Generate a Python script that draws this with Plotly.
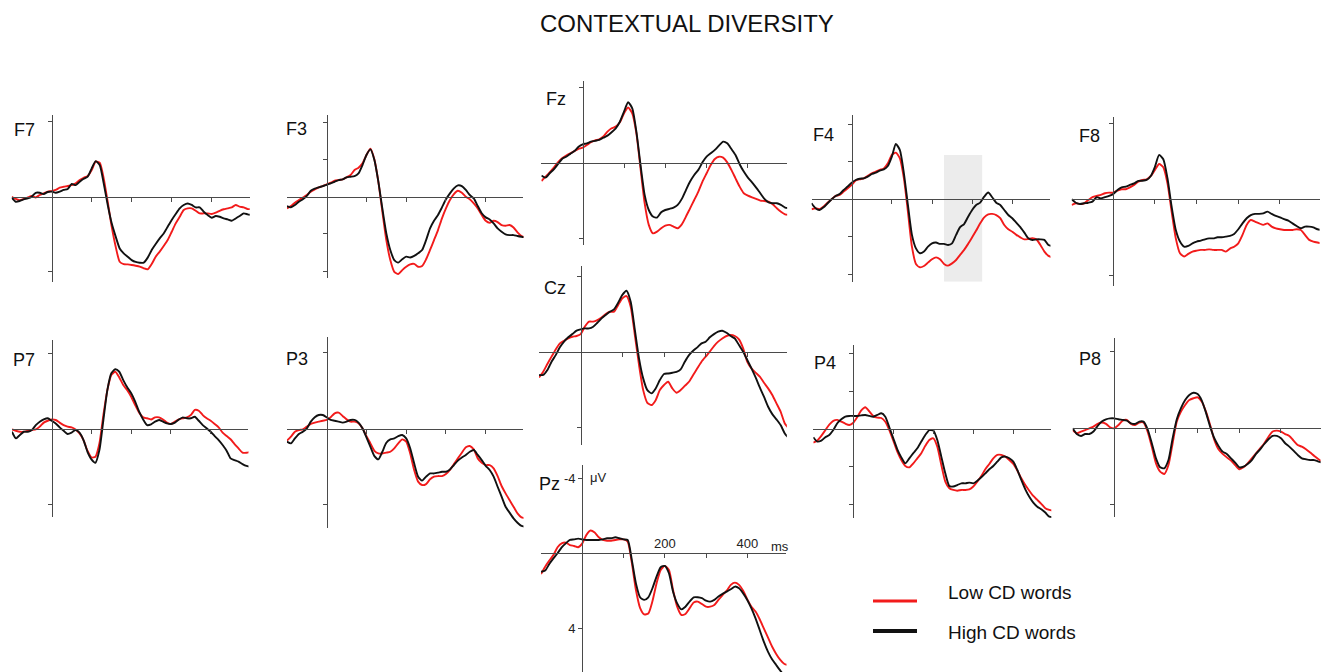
import plotly.graph_objects as go

# ---------------- text ----------------
TITLE = "CONTEXTUAL DIVERSITY"
LEGEND_LOW = "Low CD words"
LEGEND_HIGH = "High CD words"
UNIT_Y = "\u03bcV"
UNIT_X = "ms"
PANEL_NAMES = ["F7", "F3", "Fz", "F4", "F8", "P7", "P3", "Cz", "P4", "P8", "Pz"]

# ---------------- data (uV, negative up) ----------------
TIME_MS = list(range(-100, 501, 10))
X_TICKS = [100, 200, 300, 400]
PZ_X_TICK_TEXT = ["", "200", "", "400"]
PZ_Y_TICKS = [-4, 4]
PZ_Y_TICK_TEXT = ["-4", "4"]
WINDOW_MS = [230, 325]          # shaded analysis window on F4

F7_LOW = [0, 0.12, 0.18, 0.12, 0.04, -0.04, 0.04, -0.09, -0.18, -0.27, -0.3,
          -0.36, -0.48, -0.53, -0.57, -0.62, -0.71, -0.89, -1.01, -1.1, -1.42,
          -1.87, -1.81, -0.98, 0.27, 1.6, 2.67, 3.47, 3.6, 3.61, 3.64,
          3.68, 3.73, 3.82, 3.87, 3.59, 3.2, 2.93, 2.63, 2.31, 1.87,
          1.42, 1.07, 0.71, 0.62, 0.62, 0.75, 0.89, 0.89, 0.89, 0.92,
          0.85, 0.75, 0.67, 0.62, 0.57, 0.44, 0.53, 0.57, 0.66, 0.66]
F7_HIGH = [0.05, 0.27, 0.23, 0.14, 0.09, 0.0, -0.21, -0.21, -0.14, -0.25, -0.27,
           -0.21, -0.27, -0.36, -0.41, -0.68, -0.62, -0.8, -0.96, -1.07, -1.51,
           -1.9, -1.69, -0.71, 0.44, 1.42, 2.13, 2.76, 3.02, 3.2, 3.38,
           3.48, 3.52, 3.52, 3.25, 2.84, 2.52, 2.22, 1.96, 1.6, 1.24,
           0.92, 0.62, 0.44, 0.36, 0.44, 0.57, 0.57, 0.8, 0.98, 1.12,
           1.03, 1.07, 1.16, 1.21, 1.28, 1.16, 1.03, 0.89, 0.94, 0.98]

F3_LOW = [0.63, 0.5, 0.32, 0.18, 0.05, -0.09, -0.27, -0.39, -0.5, -0.57, -0.66,
          -0.75, -0.86, -0.89, -0.93, -1.04, -1.16, -1.43, -1.56, -1.79, -2.24,
          -2.58, -2.0, -0.8, 0.8, 2.33, 3.4, 4.03, 4.15, 3.94, 3.76,
          3.63, 3.61, 3.76, 3.72, 3.36, 2.86, 2.33, 1.79, 1.16, 0.63,
          0.18, -0.14, -0.32, -0.21, 0, 0.14, 0.36, 0.63, 0.98, 1.29,
          1.4, 1.29, 1.36, 1.52, 1.56, 1.52, 1.65, 1.91, 2.11, 2.18]
F3_HIGH = [0.5, 0.57, 0.45, 0.27, 0.14, -0.04, -0.32, -0.43, -0.5, -0.57, -0.64,
           -0.72, -0.8, -0.89, -0.93, -1.04, -1.07, -1.1, -1.25, -1.7, -2.24,
           -2.54, -1.97, -0.8, 0.63, 1.97, 2.86, 3.4, 3.54, 3.36, 3.22,
           3.26, 3.18, 3.04, 2.86, 2.33, 1.7, 1.29, 0.98, 0.57, 0.14,
           -0.18, -0.45, -0.61, -0.57, -0.36, -0.09, 0.09, 0.5, 0.89, 1.11,
           1.22, 1.43, 1.7, 1.88, 2.02, 2.06, 2.06, 2.11, 2.15, 2.18]

FZ_LOW = [0.94, 0.71, 0.48, 0.23, -0.05, -0.27, -0.41, -0.53, -0.65, -0.76, -0.83,
          -0.97, -1.12, -1.22, -1.27, -1.42, -1.68, -1.86, -1.95, -2.18, -2.65,
          -2.96, -2.65, -1.59, 0.27, 2.12, 3.27, 3.72, 3.63, 3.45, 3.31,
          3.27, 3.36, 3.45, 3.24, 2.83, 2.39, 1.95, 1.5, 0.97, 0.53,
          0.09, -0.23, -0.35, -0.3, -0.05, 0.35, 0.8, 1.24, 1.59, 1.72,
          1.81, 1.89, 1.98, 2.0, 2.04, 2.18, 2.39, 2.57, 2.71, 2.74]
FZ_HIGH = [0.65, 0.76, 0.53, 0.32, 0.05, -0.23, -0.35, -0.5, -0.65, -0.88, -1.01,
           -1.06, -1.15, -1.19, -1.24, -1.36, -1.47, -1.65, -1.86, -2.21, -2.74,
           -3.24, -2.92, -1.68, 0.09, 1.68, 2.48, 2.83, 2.88, 2.6, 2.48,
           2.42, 2.35, 2.21, 1.89, 1.42, 0.97, 0.62, 0.35, -0.05, -0.35,
           -0.53, -0.71, -0.94, -1.15, -1.06, -0.76, -0.44, 0.05, 0.44, 0.76,
           1.01, 1.29, 1.59, 1.89, 2.07, 2.12, 2.12, 2.21, 2.35, 2.39]

F4_LOW = [0.53, 0.48, 0.53, 0.39, 0.18, 0, -0.18, -0.23, -0.41, -0.59, -0.77,
          -1.0, -1.07, -1.12, -1.25, -1.39, -1.48, -1.57, -1.65, -1.92, -2.37,
          -2.49, -2.19, -1.12, 0.66, 2.53, 3.45, 3.63, 3.56, 3.38, 3.2,
          3.1, 3.2, 3.45, 3.54, 3.42, 3.24, 2.97, 2.7, 2.38, 2.03,
          1.67, 1.28, 0.96, 0.8, 0.78, 0.84, 1.01, 1.37, 1.6, 1.73,
          1.9, 2.03, 2.14, 2.12, 2.08, 2.14, 2.44, 2.79, 3.02, 3.1]
F4_HIGH = [0.21, 0.48, 0.57, 0.43, 0.21, 0, -0.18, -0.28, -0.5, -0.68, -0.89,
           -1.03, -1.1, -1.12, -1.21, -1.35, -1.42, -1.53, -1.6, -1.78, -2.28,
           -2.95, -2.63, -1.39, 0.3, 1.9, 2.62, 2.88, 2.79, 2.53, 2.35,
           2.31, 2.38, 2.38, 2.44, 2.35, 1.9, 1.49, 1.32, 0.93, 0.57,
           0.3, 0.18, -0.14, -0.36, -0.11, 0.18, 0.3, 0.57, 0.84, 1.01,
           1.25, 1.49, 1.78, 2.08, 2.17, 2.14, 2.14, 2.17, 2.44, 2.49]

F8_LOW = [0.3, 0.21, 0.25, 0.21, 0.04, -0.11, -0.18, -0.23, -0.32, -0.35, -0.35,
          -0.46, -0.53, -0.53, -0.63, -0.76, -0.93, -1.02, -1.05, -1.23, -1.55,
          -1.86, -1.69, -0.84, 0.65, 2.06, 2.85, 3.02, 2.88, 2.76, 2.71,
          2.67, 2.67, 2.64, 2.67, 2.67, 2.67, 2.76, 2.6, 2.5, 2.32,
          1.88, 1.35, 1.09, 1.18, 1.27, 1.35, 1.27, 1.44, 1.53, 1.58,
          1.62, 1.62, 1.62, 1.58, 1.62, 1.88, 2.14, 2.23, 2.28, 2.32]
F8_HIGH = [0, 0.18, 0.25, 0.21, 0.18, 0.12, -0.11, -0.05, -0.11, -0.18, -0.28,
           -0.49, -0.63, -0.67, -0.76, -0.84, -0.97, -0.98, -1.02, -1.23, -1.72,
           -2.34, -2.11, -1.11, 0.39, 1.62, 2.23, 2.5, 2.46, 2.32, 2.23,
           2.18, 2.11, 2.06, 2.06, 2.0, 2.0, 1.97, 1.93, 1.83, 1.58,
           1.27, 1.0, 0.83, 0.77, 0.77, 0.74, 0.65, 0.77, 0.88, 0.95,
           1.05, 1.12, 1.27, 1.41, 1.53, 1.44, 1.44, 1.48, 1.58, 1.62]

P7_LOW = [0.04, 0.11, 0.16, 0.16, 0.11, 0.07, 0.04, -0.11, -0.32, -0.42, -0.49,
          -0.46, -0.32, -0.19, -0.11, -0.07, 0.04, 0.25, 0.6, 1.16, 1.52,
          1.48, 0.78, -0.72, -2.04, -2.84, -3.01, -2.71, -2.31, -2.04, -1.69,
          -1.25, -0.85, -0.6, -0.55, -0.49, -0.6, -0.6, -0.49, -0.32, -0.25,
          -0.37, -0.49, -0.55, -0.6, -0.72, -0.99, -0.95, -0.72, -0.55, -0.42,
          -0.25, -0.07, 0.21, 0.39, 0.56, 0.81, 1.04, 1.27, 1.27, 1.22]
P7_HIGH = [0.16, 0.51, 0.33, 0.16, 0.16, 0.07, -0.19, -0.37, -0.49, -0.55, -0.42,
           -0.28, -0.07, 0.11, 0.28, 0.21, 0.07, 0.21, 0.6, 1.22, 1.62,
           1.8, 1.13, -0.46, -2.04, -2.93, -3.14, -3.01, -2.57, -2.19, -1.87,
           -1.43, -0.9, -0.49, -0.19, -0.23, -0.37, -0.46, -0.37, -0.28, -0.25,
           -0.32, -0.49, -0.6, -0.55, -0.55, -0.63, -0.42, -0.19, -0.02, 0.16,
           0.39, 0.6, 0.86, 1.16, 1.57, 1.66, 1.74, 1.87, 1.97, 2.01]

P3_LOW = [0.63, 0.42, 0.16, 0.07, 0.04, -0.11, -0.25, -0.32, -0.37, -0.42, -0.46,
          -0.6, -0.81, -0.84, -0.67, -0.49, -0.37, -0.37, -0.28, -0.02, 0.39,
          0.77, 1.16, 1.3, 1.3, 1.26, 1.21, 1.03, 0.77, 0.56, 0.68,
          1.3, 2.17, 2.78, 2.96, 2.91, 2.66, 2.52, 2.49, 2.49, 2.38,
          2.17, 1.86, 1.56, 1.26, 0.98, 0.91, 1.09, 1.56, 1.79, 1.91,
          1.91, 2.08, 2.49, 3.01, 3.4, 3.75, 4.1, 4.45, 4.66, 4.7]
P3_HIGH = [0.68, 0.77, 0.51, 0.28, 0.16, -0.02, -0.37, -0.6, -0.72, -0.72, -0.6,
           -0.46, -0.42, -0.37, -0.32, -0.37, -0.46, -0.46, -0.32, -0.02, 0.46,
           0.95, 1.44, 1.61, 1.21, 0.74, 0.56, 0.51, 0.39, 0.33, 0.51,
           1.03, 1.82, 2.52, 2.73, 2.52, 2.35, 2.35, 2.31, 2.26, 2.26,
           2.14, 1.91, 1.68, 1.51, 1.38, 1.21, 1.12, 1.38, 1.65, 1.95,
           2.17, 2.52, 3.05, 3.57, 4.1, 4.41, 4.71, 4.94, 5.11, 5.15]

CZ_LOW = [1.36, 1.06, 0.65, 0.26, -0.12, -0.44, -0.58, -0.7, -0.79, -0.83, -0.93,
          -1.33, -1.59, -1.59, -1.67, -1.81, -1.99, -2.11, -2.11, -2.47, -2.82,
          -2.94, -2.38, -0.88, 0.7, 2.03, 2.7, 2.82, 2.56, 2.03, 1.76,
          1.59, 1.94, 2.17, 2.03, 1.81, 1.59, 1.23, 0.88, 0.53, 0.26,
          0, -0.3, -0.53, -0.7, -0.83, -0.88, -0.83, -0.65, -0.18, 0.53,
          0.88, 1.11, 1.32, 1.64, 1.94, 2.29, 2.73, 3.17, 3.79, 4.05]
CZ_HIGH = [1.23, 1.23, 0.97, 0.53, 0.18, -0.23, -0.53, -0.76, -0.93, -1.11, -1.18,
           -1.23, -1.23, -1.32, -1.53, -1.76, -1.94, -2.11, -2.24, -2.59, -3.0,
           -3.22, -2.64, -1.15, 0.35, 1.41, 2.03, 2.2, 1.94, 1.5, 1.18,
           1.15, 1.11, 1.06, 0.93, 0.53, 0.18, -0.05, -0.23, -0.44, -0.53,
           -0.76, -0.93, -1.06, -1.11, -1.0, -0.83, -0.7, -0.35, 0, 0.44,
           0.88, 1.36, 1.89, 2.38, 2.91, 3.3, 3.58, 3.88, 4.32, 4.58]

P4_LOW = [0.71, 0.6, 0.35, 0.05, -0.25, -0.45, -0.5, -0.41, -0.3, -0.23, -0.35,
          -0.65, -1.0, -1.17, -0.95, -0.7, -0.62, -0.6, -0.4, 0.04, 0.6,
          1.19, 1.63, 1.95, 2.02, 1.81, 1.54, 1.27, 0.88, 0.57, 0.48,
          0.92, 1.89, 2.78, 3.13, 3.22, 3.26, 3.22, 3.22, 3.19, 3.04,
          2.78, 2.48, 2.12, 1.84, 1.54, 1.36, 1.36, 1.45, 1.63, 1.84,
          2.19, 2.6, 2.96, 3.26, 3.54, 3.75, 3.96, 4.19, 4.28, 4.32]
P4_HIGH = [0.42, 0.65, 0.6, 0.42, 0.3, 0.04, -0.32, -0.53, -0.67, -0.71, -0.71,
           -0.71, -0.74, -0.76, -0.71, -0.67, -0.76, -0.85, -0.67, -0.11, 0.48,
           1.06, 1.49, 1.81, 1.54, 1.27, 1.01, 0.65, 0.3, 0.04, 0.07,
           0.57, 1.45, 2.34, 3.01, 3.04, 2.96, 2.87, 2.87, 2.83, 2.87,
           2.73, 2.55, 2.34, 2.12, 1.95, 1.72, 1.49, 1.45, 1.54, 1.72,
           2.16, 2.69, 3.19, 3.58, 3.89, 4.11, 4.25, 4.42, 4.64, 4.67]

P8_LOW = [0.09, 0.26, 0.17, 0.09, 0, -0.09, -0.23, -0.3, -0.23, -0.05, 0,
          -0.17, -0.4, -0.44, -0.23, -0.17, -0.3, -0.3, 0.17, 0.96, 1.83,
          2.26, 2.39, 1.92, 0.78, -0.35, -0.87, -1.22, -1.48, -1.57, -1.62,
          -1.39, -0.87, -0.17, 0.61, 1.1, 1.34, 1.52, 1.69, 1.92, 2.14,
          2.04, 1.83, 1.57, 1.31, 1.05, 0.78, 0.44, 0.17, 0.12, 0.17,
          0.3, 0.4, 0.64, 0.87, 0.96, 1.1, 1.27, 1.45, 1.62, 1.74]
P8_HIGH = [0, 0.3, 0.4, 0.3, 0.3, 0.17, -0.12, -0.35, -0.47, -0.52, -0.52,
           -0.47, -0.44, -0.4, -0.26, -0.23, -0.35, -0.35, 0.05, 0.78, 1.57,
           2.04, 2.09, 1.66, 0.52, -0.47, -1.05, -1.48, -1.74, -1.86, -1.79,
           -1.45, -0.82, -0.09, 0.52, 0.92, 1.22, 1.34, 1.57, 1.79, 2.04,
           2.0, 1.86, 1.66, 1.34, 1.1, 0.82, 0.57, 0.4, 0.4, 0.52,
           0.78, 0.96, 1.17, 1.39, 1.57, 1.62, 1.66, 1.66, 1.74, 1.79]

PZ_LOW = [1.1, 0.71, 0.39, 0.09, -0.32, -0.53, -0.57, -0.44, -0.39, -0.32, -0.53,
          -0.98, -1.21, -1.1, -0.85, -0.71, -0.67, -0.67, -0.71, -0.74, -0.74,
          -0.62, 0.5, 1.95, 2.9, 3.25, 3.2, 2.55, 1.6, 0.89, 0.67,
          0.89, 1.95, 2.84, 3.28, 3.23, 2.93, 2.62, 2.57, 2.7, 2.84,
          2.84, 2.75, 2.48, 2.22, 1.99, 1.68, 1.56, 1.68, 1.99, 2.45,
          2.84, 3.1, 3.51, 3.99, 4.47, 4.96, 5.35, 5.67, 5.89, 5.94]
PZ_HIGH = [0.98, 0.92, 0.57, 0.27, 0, -0.32, -0.53, -0.71, -0.74, -0.78, -0.74,
           -0.71, -0.71, -0.71, -0.71, -0.74, -0.8, -0.8, -0.85, -0.8, -0.74,
           -0.71, 0.35, 1.6, 2.34, 2.48, 2.34, 1.86, 1.24, 0.74, 0.67,
           1.06, 2.04, 2.66, 2.98, 2.84, 2.57, 2.34, 2.34, 2.39, 2.52,
           2.57, 2.48, 2.3, 2.16, 2.04, 1.91, 1.77, 1.86, 2.13, 2.48,
           2.93, 3.46, 4.08, 4.7, 5.23, 5.64, 5.94, 6.24, 6.52, 6.65]

SERIES = {
    "F7": (F7_LOW, F7_HIGH), "F3": (F3_LOW, F3_HIGH), "Fz": (FZ_LOW, FZ_HIGH),
    "F4": (F4_LOW, F4_HIGH), "F8": (F8_LOW, F8_HIGH), "P7": (P7_LOW, P7_HIGH),
    "P3": (P3_LOW, P3_HIGH), "Cz": (CZ_LOW, CZ_HIGH), "P4": (P4_LOW, P4_HIGH),
    "P8": (P8_LOW, P8_HIGH), "Pz": (PZ_LOW, PZ_HIGH),
}

# ---------------- layout geometry (pixels) ----------------
W, H = 1325, 672
X_MIN, X_END = -100, 495
# y-axis x position, px per ms, zero-line y, px per uV, axis top, axis bottom, label pos, y ticks
GEOM = {
    "F7": (51.7, 0.400, 196.7, 18.75, 115, 281.7, (12, 130), [-4, 4]),
    "F3": (326.7, 0.3975, 196.7, 18.63, 115, 278, (284, 129), [-4, -2, 2, 4]),
    "Fz": (582.7, 0.413, 163.3, 18.83, 81, 245, (544, 99), [-4, 4]),
    "F4": (851.7, 0.4015, 199.3, 18.73, 115, 281.7, (811, 135), [-4, -2, 2, 4]),
    "F8": (1113.3, 0.4167, 199.3, 18.96, 116.7, 286, (1077, 136), [-4, 4]),
    "P7": (51.7, 0.3975, 428.7, 18.92, 340, 516.7, (11, 360), [-4, 4]),
    "P3": (326.7, 0.3975, 428.7, 19.03, 336.7, 528, (284, 359), [-4, 4]),
    "Cz": (580.7, 0.4165, 351.7, 18.92, 266, 445, (542, 288), [-4, 4]),
    "P4": (853.3, 0.400, 429.3, 18.83, 345, 518.3, (812, 363), [-4, -2, 2, 4]),
    "P8": (1114.3, 0.4167, 428.3, 19.13, 338.3, 516.7, (1077, 359), [-4, 4]),
    "Pz": (582.3, 0.4125, 553.3, 18.8, 465, 672, (537, 484), PZ_Y_TICKS),
}

RED = "#f21b1b"
BLACK = "#111111"
AXIS = "#4a4a4a"
FONT = "Liberation Sans, Arial, sans-serif"

fig = go.Figure()
layout = dict(
    width=W, height=H, margin=dict(l=0, r=0, t=0, b=0),
    paper_bgcolor="white", plot_bgcolor="rgba(0,0,0,0)",
    showlegend=False, font=dict(family=FONT, color="#111"),
)
annotations = []
shapes = []

for i, name in enumerate(PANEL_NAMES, start=1):
    yx, sx, zy, sy, top, bot, (lx, ly), yt = GEOM[name]
    left = yx + X_MIN * sx
    right = min(yx + X_END * sx, W)
    xr_end = (right - yx) / sx
    xs = "" if i == 1 else str(i)
    is_pz = name == "Pz"
    xa = dict(
        domain=[left / W, right / W], range=[X_MIN, xr_end],
        anchor="free", position=1 - zy / H,
        showline=True, linecolor=AXIS, linewidth=1.2,
        ticks="outside", ticklen=4, tickwidth=1.2, tickcolor=AXIS,
        tickvals=X_TICKS, showticklabels=False,
        showgrid=False, zeroline=False, fixedrange=True,
    )
    ya = dict(
        domain=[1 - bot / H, 1 - top / H],
        range=[(bot - zy) / sy, -(zy - top) / sy],
        anchor="free", position=yx / W,
        showline=True, linecolor=AXIS, linewidth=1.2,
        ticks="outside", ticklen=4, tickwidth=1.2, tickcolor=AXIS,
        tickvals=yt, showticklabels=False,
        showgrid=False, zeroline=False, fixedrange=True,
    )
    if is_pz:
        xa.update(side="top", ticks="inside", showticklabels=True,
                  ticktext=PZ_X_TICK_TEXT, tickfont=dict(size=13, color="#222"))
        ya.update(showticklabels=True, ticktext=PZ_Y_TICK_TEXT,
                  tickfont=dict(size=13, color="#222"))
    layout["xaxis" + xs] = xa
    layout["yaxis" + xs] = ya

    low, high = SERIES[name]
    fig.add_trace(go.Scatter(x=TIME_MS, y=low, mode="lines", name=LEGEND_LOW,
                             line=dict(color=RED, width=1.9, shape="spline", smoothing=0.6),
                             xaxis="x" + xs, yaxis="y" + xs, hoverinfo="skip"))
    fig.add_trace(go.Scatter(x=TIME_MS, y=high, mode="lines", name=LEGEND_HIGH,
                             line=dict(color=BLACK, width=1.9, shape="spline", smoothing=0.6),
                             xaxis="x" + xs, yaxis="y" + xs, hoverinfo="skip"))

    annotations.append(dict(text=name, x=lx / W, y=1 - ly / H, xref="paper", yref="paper",
                            xanchor="left", yanchor="middle", showarrow=False,
                            font=dict(size=18, color="#111")))

    if name == "F4":
        shapes.append(dict(type="rect", xref="x" + xs, yref="y" + xs,
                           x0=WINDOW_MS[0], x1=WINDOW_MS[1],
                           y0=-2.37, y1=(bot - zy) / sy,
                           fillcolor="#ececec", line=dict(width=0), layer="below"))

# unit labels on Pz
annotations.append(dict(text=UNIT_Y, x=588 / W, y=1 - 477 / H, xref="paper", yref="paper",
                        xanchor="left", yanchor="middle", showarrow=False,
                        font=dict(size=13, color="#222")))
annotations.append(dict(text=UNIT_X, x=780 / W, y=1 - 546 / H, xref="paper", yref="paper",
                        xanchor="center", yanchor="middle", showarrow=False,
                        font=dict(size=13, color="#222")))

# title
annotations.append(dict(text=TITLE, x=687 / W, y=1 - 24 / H, xref="paper", yref="paper",
                        xanchor="center", yanchor="middle", showarrow=False,
                        font=dict(size=24, color="#111")))

# legend
for label, color, lw, ty, ly_line in ((LEGEND_LOW, RED, 3, 592, 601),
                                       (LEGEND_HIGH, BLACK, 4, 632, 631)):
    shapes.append(dict(type="line", xref="paper", yref="paper",
                       x0=873 / W, x1=917 / W, y0=1 - ly_line / H, y1=1 - ly_line / H,
                       line=dict(color=color, width=lw)))
    annotations.append(dict(text=label, x=946 / W, y=1 - ty / H, xref="paper", yref="paper",
                            xanchor="left", yanchor="middle", showarrow=False,
                            font=dict(size=19, color="#111")))

layout["annotations"] = annotations
layout["shapes"] = shapes
fig.update_layout(**layout)

fig.write_html("out.html", config={"displayModeBar": False},
               post_script="document.body.style.margin='0px';")
